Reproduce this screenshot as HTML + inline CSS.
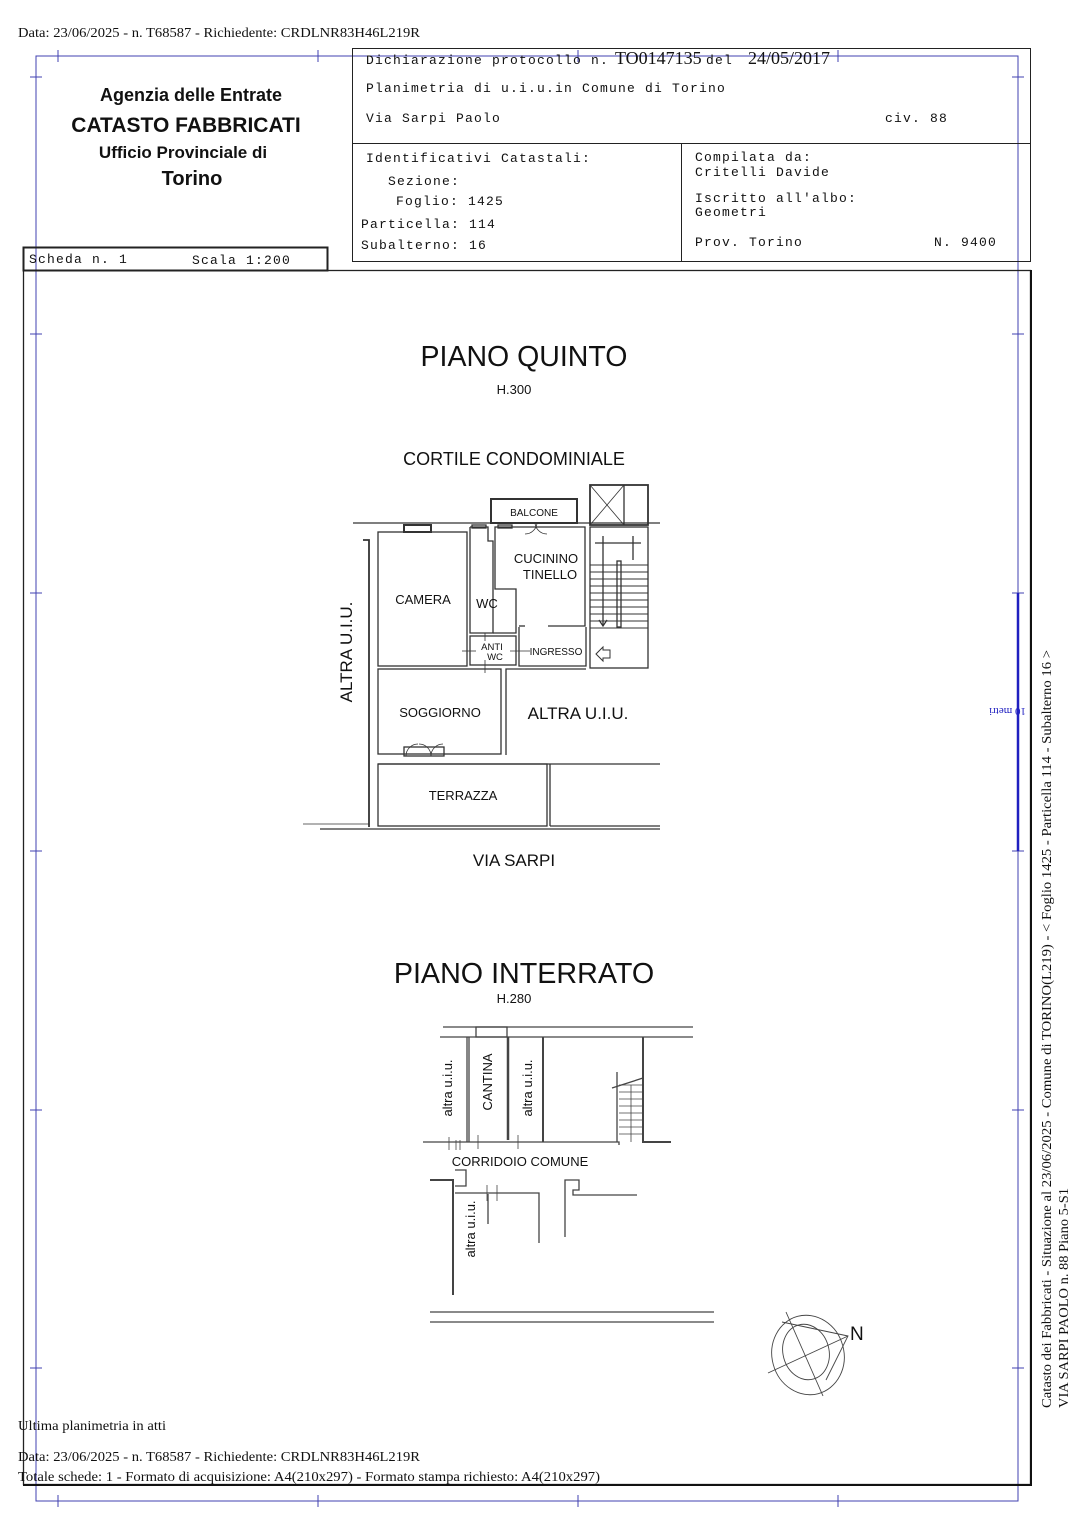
<!DOCTYPE html>
<html><head><meta charset="utf-8"><style>
html,body{margin:0;padding:0;background:#fff;}
svg{display:block}
.m{font-family:"Liberation Mono",monospace;font-size:13px;fill:#111;letter-spacing:1.2px}
.s{font-family:"Liberation Serif",serif;fill:#111}
.a{font-family:"Liberation Sans",sans-serif;fill:#111}
</style></head><body>
<svg width="1086" height="1536" viewBox="0 0 1086 1536" xmlns="http://www.w3.org/2000/svg">
<rect width="1086" height="1536" fill="#fff"/>
<text x="18" y="37" class="s" font-size="13.5" textLength="402" lengthAdjust="spacingAndGlyphs">Data: 23/06/2025 - n. T68587 - Richiedente: CRDLNR83H46L219R</text>

<g stroke="#4040b0" stroke-width="1" fill="none">
<rect x="36" y="56" width="982" height="1445"/>
<line x1="58" y1="50" x2="58" y2="62"/><line x1="318" y1="50" x2="318" y2="62"/><line x1="578" y1="50" x2="578" y2="62"/><line x1="838" y1="50" x2="838" y2="62"/>
<line x1="58" y1="1495" x2="58" y2="1507"/><line x1="318" y1="1495" x2="318" y2="1507"/><line x1="578" y1="1495" x2="578" y2="1507"/><line x1="838" y1="1495" x2="838" y2="1507"/>
<line x1="30" y1="77" x2="42" y2="77"/><line x1="30" y1="334" x2="42" y2="334"/><line x1="30" y1="593" x2="42" y2="593"/><line x1="30" y1="851" x2="42" y2="851"/><line x1="30" y1="1110" x2="42" y2="1110"/><line x1="30" y1="1368" x2="42" y2="1368"/>
<line x1="1012" y1="77" x2="1024" y2="77"/><line x1="1012" y1="334" x2="1024" y2="334"/><line x1="1012" y1="593" x2="1024" y2="593"/><line x1="1012" y1="851" x2="1024" y2="851"/><line x1="1012" y1="1110" x2="1024" y2="1110"/><line x1="1012" y1="1368" x2="1024" y2="1368"/>
</g>
<line x1="1018" y1="593" x2="1018" y2="851" stroke="#2020c0" stroke-width="2.5"/>
<text transform="translate(1026,708) rotate(180)" class="s" font-size="11" style="fill:#2020c0">10 metri</text>

<g stroke="#222" stroke-width="1" fill="none">
<rect x="352.5" y="48.5" width="678" height="213"/>
<line x1="352" y1="143.5" x2="1031" y2="143.5"/>
<line x1="681.5" y1="143" x2="681.5" y2="262"/>
<rect x="23.5" y="247.5" width="304" height="23" stroke-width="2"/>
<rect x="23.5" y="270.5" width="1007" height="1214" stroke-width="1.3"/>
</g>
<line x1="23" y1="1485" x2="1031" y2="1485" stroke="#111" stroke-width="2"/>
<line x1="1031" y1="270" x2="1031" y2="1486" stroke="#111" stroke-width="2"/>

<text x="191" y="101" text-anchor="middle" class="a" font-size="18" font-weight="bold">Agenzia delle Entrate</text>
<text x="186" y="132" text-anchor="middle" class="a" font-size="21" font-weight="bold">CATASTO FABBRICATI</text>
<text x="183" y="158" text-anchor="middle" class="a" font-size="17" font-weight="bold">Ufficio Provinciale di</text>
<text x="192" y="185" text-anchor="middle" class="a" font-size="20" font-weight="bold">Torino</text>
<text x="29" y="263" class="m">Scheda n. 1</text>
<text x="192" y="264" class="m">Scala 1:200</text>

<text x="366" y="64" class="m">Dichiarazione protocollo n.</text>
<text x="615" y="64" class="s" font-size="18">TO0147135</text>
<text x="706" y="64" class="m">del</text>
<text x="748" y="64" class="s" font-size="18">24/05/2017</text>
<text x="366" y="92" class="m">Planimetria di u.i.u.in Comune di Torino</text>
<text x="366" y="122" class="m">Via Sarpi Paolo</text>
<text x="885" y="122" class="m">civ. 88</text>
<text x="366" y="162" class="m">Identificativi Catastali:</text>
<text x="388" y="185" class="m">Sezione:</text>
<text x="396" y="205" class="m">Foglio: 1425</text>
<text x="361" y="228" class="m">Particella: 114</text>
<text x="361" y="249" class="m">Subalterno: 16</text>
<text x="695" y="161" class="m">Compilata da:</text>
<text x="695" y="176" class="m">Critelli Davide</text>
<text x="695" y="202" class="m">Iscritto all'albo:</text>
<text x="695" y="216" class="m">Geometri</text>
<text x="695" y="246" class="m">Prov. Torino</text>
<text x="934" y="246" class="m">N. 9400</text>

<text x="524" y="366" text-anchor="middle" class="a" font-size="28.5">PIANO QUINTO</text>
<text x="514" y="394" text-anchor="middle" class="a" font-size="13">H.300</text>
<text x="514" y="465" text-anchor="middle" class="a" font-size="18">CORTILE CONDOMINIALE</text>
<text x="514" y="866" text-anchor="middle" class="a" font-size="17">VIA SARPI</text>
<text x="524" y="983" text-anchor="middle" class="a" font-size="28.7">PIANO INTERRATO</text>
<text x="514" y="1003" text-anchor="middle" class="a" font-size="13">H.280</text>

<g stroke="#333" stroke-width="1.3" fill="none">
<line x1="353" y1="523" x2="660" y2="523"/>
<rect x="491" y="499" width="86" height="24" stroke-width="2"/>
<rect x="590" y="485" width="58" height="40" stroke-width="1.8"/><line x1="624" y1="485" x2="624" y2="525"/>
<line x1="590" y1="485" x2="624" y2="525" stroke-width="0.8"/><line x1="624" y1="485" x2="590" y2="525" stroke-width="0.8"/>
<polyline points="363,540 369,540 369,827" stroke-width="1.8"/>
<line x1="320" y1="829" x2="660" y2="829"/>
<line x1="303" y1="824" x2="369" y2="824" stroke-width="0.8"/>
<rect x="378" y="532" width="89" height="134"/>
<rect x="404" y="525" width="27" height="7" stroke-width="2"/>
<rect x="472" y="525" width="14" height="3"/><rect x="498" y="525" width="14" height="3"/>
<polyline points="470,527 488,527 488,541 493,541 493,633 470,633 470,527"/>
<polyline points="493,633 516,633 516,589 495,589 495,527 585,527 585,626 548,626"/>
<line x1="519" y1="626" x2="525" y2="626"/>
<rect x="470" y="636" width="46" height="29"/>
<polyline points="519,627 519,666 586,666 586,627"/>
<line x1="462" y1="651" x2="476" y2="651" stroke-width="0.8"/><line x1="485" y1="633" x2="485" y2="641" stroke-width="0.8"/><line x1="485" y1="660" x2="485" y2="673" stroke-width="0.8"/><line x1="510" y1="651" x2="530" y2="651" stroke-width="0.8"/>
<rect x="590" y="527" width="58" height="141"/>
<line x1="595" y1="543" x2="641" y2="543"/>
<line x1="603" y1="536" x2="603" y2="626"/><polyline points="599,620 603,626 607,620"/>
<line x1="633" y1="536" x2="633" y2="560"/>
<rect x="617" y="561" width="4" height="66"/>
<g stroke-width="0.9"><line x1="590" y1="565" x2="648" y2="565"/><line x1="590" y1="572" x2="648" y2="572"/><line x1="590" y1="579" x2="648" y2="579"/><line x1="590" y1="586" x2="648" y2="586"/><line x1="590" y1="593" x2="648" y2="593"/><line x1="590" y1="600" x2="648" y2="600"/><line x1="590" y1="607" x2="648" y2="607"/><line x1="590" y1="614" x2="648" y2="614"/><line x1="590" y1="621" x2="648" y2="621"/><line x1="590" y1="628" x2="648" y2="628"/></g>
<polygon points="596,654 603,647 603,650 610,650 610,658 603,658 603,661" stroke-width="1"/>
<rect x="378" y="669" width="123" height="85"/>
<polyline points="506,755 506,669 586,669"/>
<rect x="404" y="747" width="40" height="9"/>
<path d="M406,756 A12,12 0 0 1 418,744 M431,756 A12,12 0 0 0 419,744 M431,756 A12,12 0 0 1 443,744" stroke-width="0.8"/>
<path d="M525,534 A12,12 0 0 0 537,522 M547,534 A12,12 0 0 1 535,522" stroke-width="0.8"/>
<rect x="378" y="764" width="169" height="62"/>
<line x1="378" y1="764" x2="660" y2="764"/>
<line x1="550" y1="764" x2="550" y2="826"/>
<line x1="550" y1="826" x2="660" y2="826"/>
</g>
<text x="534" y="516" text-anchor="middle" class="a" font-size="10" fill="#333">BALCONE</text>
<text x="423" y="604" text-anchor="middle" class="a" font-size="13">CAMERA</text>
<text x="487" y="608" text-anchor="middle" class="a" font-size="13">WC</text>
<text x="546" y="563" text-anchor="middle" class="a" font-size="13">CUCININO</text>
<text x="550" y="579" text-anchor="middle" class="a" font-size="13">TINELLO</text>
<text x="492" y="650" text-anchor="middle" class="a" font-size="9.5">ANTI</text>
<text x="495" y="660" text-anchor="middle" class="a" font-size="9.5">WC</text>
<text x="556" y="655" text-anchor="middle" class="a" font-size="10">INGRESSO</text>
<text x="440" y="717" text-anchor="middle" class="a" font-size="13">SOGGIORNO</text>
<text x="578" y="719" text-anchor="middle" class="a" font-size="17">ALTRA U.I.U.</text>
<text x="463" y="800" text-anchor="middle" class="a" font-size="13">TERRAZZA</text>
<text transform="translate(352,652) rotate(-90)" text-anchor="middle" class="a" font-size="17">ALTRA U.I.U.</text>

<g stroke="#444" stroke-width="1.3" fill="none">
<line x1="443" y1="1027" x2="693" y2="1027"/>
<line x1="440" y1="1037" x2="693" y2="1037"/>
<rect x="476" y="1027" width="31" height="10"/>
<line x1="467" y1="1037" x2="467" y2="1142"/><line x1="469" y1="1037" x2="469" y2="1142"/>
<line x1="508" y1="1037" x2="508" y2="1140" stroke-width="2.5"/>
<line x1="543" y1="1037" x2="543" y2="1142" stroke-width="2"/>
<polyline points="643,1037 643,1142 671,1142" stroke-width="2"/>
<polyline points="423,1142 619,1142 619,1145"/>
<line x1="617" y1="1072" x2="617" y2="1142"/>
<line x1="612" y1="1088" x2="643" y2="1078"/>
<g stroke-width="0.8"><line x1="619" y1="1085" x2="643" y2="1085"/><line x1="619" y1="1092" x2="643" y2="1092"/><line x1="619" y1="1099" x2="643" y2="1099"/><line x1="619" y1="1106" x2="643" y2="1106"/><line x1="619" y1="1113" x2="643" y2="1113"/><line x1="619" y1="1120" x2="643" y2="1120"/><line x1="619" y1="1127" x2="643" y2="1127"/><line x1="619" y1="1134" x2="643" y2="1134"/><line x1="631" y1="1085" x2="631" y2="1142"/></g>
<g stroke-width="0.8"><line x1="449" y1="1137" x2="449" y2="1150"/><line x1="456" y1="1140" x2="456" y2="1150"/><line x1="460" y1="1140" x2="460" y2="1150"/><line x1="478" y1="1135" x2="478" y2="1149"/><line x1="518" y1="1135" x2="518" y2="1149"/></g>
<polyline points="430,1180 453,1180 453,1295" stroke-width="2"/>
<polyline points="455,1170 466,1170 466,1186 455,1186"/>
<polyline points="455,1193 539,1193 539,1243"/>
<line x1="487" y1="1185" x2="487" y2="1201" stroke-width="0.8"/><line x1="497" y1="1185" x2="497" y2="1201" stroke-width="0.8"/><line x1="488" y1="1194" x2="488" y2="1224"/>
<polyline points="565,1237 565,1180 579,1180 579,1190 573,1190 573,1195 637,1195"/>
<line x1="430" y1="1312" x2="714" y2="1312"/>
<line x1="430" y1="1322" x2="714" y2="1322"/>
</g>
<text transform="translate(452,1088) rotate(-90)" text-anchor="middle" class="a" font-size="13">altra u.i.u.</text>
<text transform="translate(492,1082) rotate(-90)" text-anchor="middle" class="a" font-size="13">CANTINA</text>
<text transform="translate(532,1088) rotate(-90)" text-anchor="middle" class="a" font-size="13">altra u.i.u.</text>
<text transform="translate(475,1229) rotate(-90)" text-anchor="middle" class="a" font-size="13">altra u.i.u.</text>
<text x="520" y="1166" text-anchor="middle" class="a" font-size="13">CORRIDOIO COMUNE</text>

<g stroke="#444" stroke-width="0.9" fill="none">
<ellipse cx="808" cy="1355" rx="36" ry="40" transform="rotate(-15 808 1355)"/>
<ellipse cx="806" cy="1352" rx="23" ry="28" transform="rotate(-15 806 1352)"/>
<line x1="786" y1="1312" x2="823" y2="1396"/>
<line x1="768" y1="1373" x2="848" y2="1336"/>
<polyline points="782,1322 848,1336 826,1380"/>
</g>
<text x="850" y="1340" class="a" font-size="19">N</text>

<text x="18" y="1430" class="s" font-size="13.5" textLength="148" lengthAdjust="spacingAndGlyphs">Ultima planimetria in atti</text>
<text x="18" y="1461" class="s" font-size="13.5" textLength="402" lengthAdjust="spacingAndGlyphs">Data: 23/06/2025 - n. T68587 - Richiedente: CRDLNR83H46L219R</text>
<text x="18" y="1481" class="s" font-size="13.5" textLength="582" lengthAdjust="spacingAndGlyphs">Totale schede: 1 - Formato di acquisizione: A4(210x297)  - Formato stampa richiesto: A4(210x297)</text>

<text transform="translate(1051,1408) rotate(-90)" class="s" font-size="13.5" textLength="758" lengthAdjust="spacingAndGlyphs">Catasto dei Fabbricati - Situazione al 23/06/2025 - Comune di TORINO(L219) - &lt; Foglio 1425 - Particella  114 - Subalterno 16 &gt;</text>
<text transform="translate(1068,1408) rotate(-90)" class="s" font-size="13.5" textLength="220" lengthAdjust="spacingAndGlyphs">VIA SARPI PAOLO n. 88 Piano 5-S1</text>
</svg>
</body></html>
